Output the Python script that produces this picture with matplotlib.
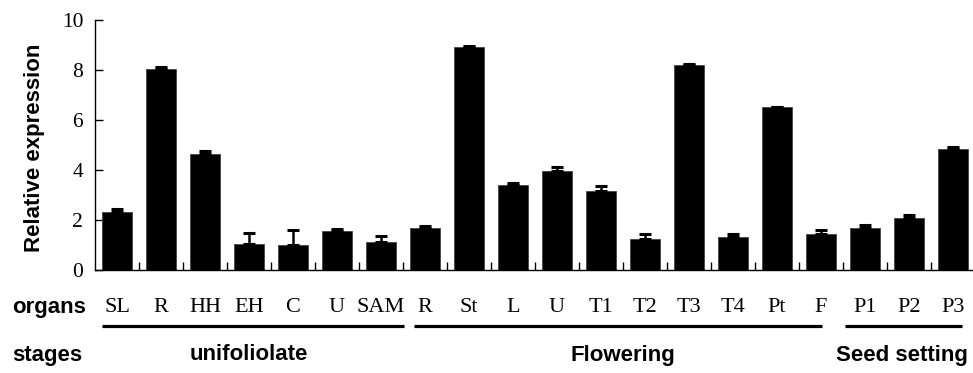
import matplotlib
matplotlib.use("Agg")
import matplotlib.pyplot as plt
import matplotlib.transforms as mtransforms
import numpy as np

# data
organs = ["SL", "R", "HH", "EH", "C", "U", "SAM",
          "R", "St", "L", "U", "T1", "T2", "T3", "T4", "Pt", "F",
          "P1", "P2", "P3"]
expression = [2.31, 8.05, 4.64, 1.06, 0.99, 1.56, 1.11,
              1.67, 8.92, 3.42, 3.97, 3.16, 1.24, 8.21, 1.32, 6.51, 1.43,
              1.67, 2.10, 4.83]
errors = [0.15, 0.06, 0.13, 0.42, 0.63, 0.07, 0.27,
          0.08, 0.03, 0.07, 0.15, 0.21, 0.19, 0.04, 0.11, 0.02, 0.16,
          0.15, 0.09, 0.10]
stages = ["unifoliolate", "Flowering", "Seed setting"]

# underline extents and label centres for the stage groups (bar-index units)
stage_spans = [(-0.35, 6.52), (6.75, 16.02), (16.55, 19.2)]
stage_label_x = [3.0, 11.5, 17.85]

serif = ["Liberation Serif", "DejaVu Serif"]
sans = ["Liberation Sans", "DejaVu Sans"]

fig = plt.figure(figsize=(9.73, 3.73), dpi=100)
ax = fig.add_axes([95 / 973, 103 / 373, 880 / 973, 250 / 373])

x = np.arange(len(organs))
ax.bar(x, expression, width=0.7, color="black", edgecolor="#444444", linewidth=0.6, zorder=2)
ax.errorbar(x, expression, yerr=[np.zeros(len(errors)), errors], fmt="none",
            ecolor="black", elinewidth=1.8, capsize=4.5, capthick=2.2, zorder=3)

ax.set_xlim(-0.5, 19.5)
ax.set_ylim(0, 10)
ax.set_yticks(np.arange(0, 11, 2))
ax.set_yticklabels([str(v) for v in range(0, 11, 2)], family=serif, fontsize=15.5)
ax.tick_params(axis="y", direction="in", length=6, width=1, pad=8.5)
ax.set_xticks([])
ax.set_xticks(np.arange(0.5, 20, 1), minor=True)
ax.tick_params(axis="x", which="minor", direction="in", length=5.5, width=1)
ax.spines["top"].set_visible(False)
ax.spines["right"].set_visible(False)
ax.spines["left"].set_linewidth(1)
ax.spines["bottom"].set_linewidth(1)

fig.text(35 / 973, 1 - 148 / 373, "Relative expression", rotation=90, ha="center", va="center",
         family=sans, fontweight="bold", fontsize=16)

trans = mtransforms.blended_transform_factory(ax.transData, fig.transFigure)
y_org = 1 - 308 / 373
y_line = 1 - 325.5 / 373
y_stage = 1 - 355 / 373

for i, name in enumerate(organs):
    ax.text(i, y_org, name, transform=trans, ha="center", va="center",
            family=serif, fontsize=16, clip_on=False)

for name, (x0, x1), xc in zip(stages, stage_spans, stage_label_x):
    ax.plot([x0, x1], [y_line, y_line], transform=trans, color="black",
            linewidth=2.3, solid_capstyle="butt", clip_on=False)
    ax.text(xc, y_stage, name, transform=trans, ha="center", va="center",
            family=sans, fontweight="bold", fontsize=16, clip_on=False)

fig.text(12 / 973, y_org, "organs", ha="left", va="center", family=sans,
         fontweight="bold", fontsize=16)
fig.text(12 / 973, y_stage, "stages", ha="left", va="center", family=sans,
         fontweight="bold", fontsize=16)

fig.savefig("out.png", dpi=100, facecolor="white")
